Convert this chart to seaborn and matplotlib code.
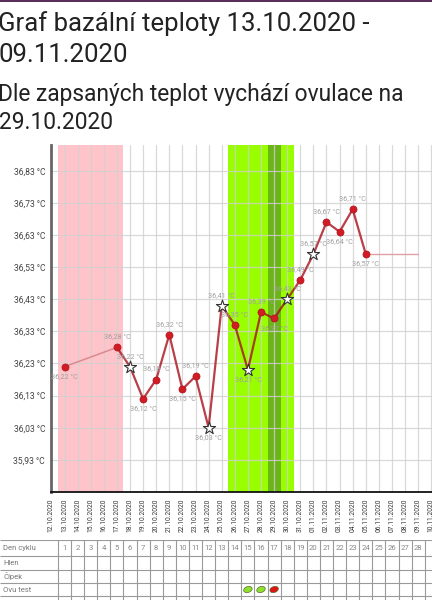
import numpy as np
import pandas as pd
import matplotlib
matplotlib.use('Agg')
import matplotlib.pyplot as plt
from matplotlib.path import Path
import matplotlib.transforms as mtransforms
import seaborn as sns

# --- data ------------------------------------------------------------------
title_lines = ['Graf bazální teploty 13.10.2020 -', '09.11.2020']
subtitle_lines = ['Dle zapsaných teplot vychází ovulace na', '29.10.2020']

axis_start = '2020-10-12'
axis_end = '2020-11-10'

measured_dates = ['13.10.2020', '17.10.2020', '18.10.2020', '19.10.2020', '20.10.2020',
                  '21.10.2020', '22.10.2020', '23.10.2020', '24.10.2020', '25.10.2020',
                  '26.10.2020', '27.10.2020', '28.10.2020', '29.10.2020', '30.10.2020',
                  '31.10.2020', '01.11.2020', '02.11.2020', '03.11.2020', '04.11.2020',
                  '05.11.2020']
temps = [36.22, 36.28, 36.22, 36.12, 36.18, 36.32, 36.15, 36.19, 36.03, 36.41,
         36.35, 36.21, 36.39, 36.37, 36.43, 36.49, 36.57, 36.67, 36.64, 36.71, 36.57]
flagged_dates = ['18.10.2020', '24.10.2020', '25.10.2020', '27.10.2020',
                 '30.10.2020', '01.11.2020']
projection_end = '09.11.2020'

y_ticks = [35.93, 36.03, 36.13, 36.23, 36.33, 36.43, 36.53, 36.63, 36.73, 36.83]

period_days = ['13.10.2020', '17.10.2020']
fertile_days = ['26.10.2020', '30.10.2020']
ovulation_day = '29.10.2020'

table_rows = ['Den cyklu', 'Hlen', 'Čípek', 'Ovu test']
cycle_days = [1, 2, 3, 4, 5, 6, 7, 8, 9, 10, 11, 12, 13, 14, 15, 16, 17, 18, 19,
              20, 21, 22, 23, 24, 25, 26, 27, 28]
ovu_test_days = [15, 16, 17]
ovu_test_result = ['neg', 'neg', 'pos']

# --- helpers ----------------------------------------------------------------
axis_dates = pd.date_range(axis_start, axis_end)
tick_labels = [d.strftime('%d.%m.%Y') for d in axis_dates]
def day_index(s):
    return (pd.to_datetime(s, format='%d.%m.%Y') - axis_dates[0]).days

df = pd.DataFrame({'date': measured_dates, 'temp': temps})
df['x'] = df['date'].map(day_index)
df['flag'] = df['date'].isin(flagged_dates)

sns.set_style('white')
plt.rcParams['font.family'] = ['Roboto', 'DejaVu Sans']

W, H = 432, 600
fig = plt.figure(figsize=(W / 100, H / 100), dpi=100)

# top bar
fig.add_artist(plt.Rectangle((0, 1 - 2 / H), 1, 2 / H, transform=fig.transFigure,
                             color='#5a2d5a', lw=0))

# headings
for txt, base in zip(title_lines, [31, 62]):
    fig.text(-1.5 / W, 1 - base / H, txt, fontsize=18.5, va='baseline', color='#222222')
for txt, base in zip(subtitle_lines, [101, 129]):
    fig.text(-1.5 / W, 1 - base / H, txt, fontsize=16.4, va='baseline', color='#222222')

# --- main chart -------------------------------------------------------------
x0_px, step_px = 51.4, 13.1
top_px, bot_px = 145, 492
ax = fig.add_axes([x0_px / W, 1 - bot_px / H, (W - x0_px) / W, (bot_px - top_px) / H])
x_right = (W - x0_px) / step_px
ax.set_xlim(0, x_right)
ax.set_ylim(35.83, 36.91)

# coloured zones
p0, p1 = day_index(period_days[0]), day_index(period_days[1])
ax.axvspan(p0 - 0.5, p1 + 0.5, color='#ffc4ca', lw=0, zorder=0)
f0, f1 = day_index(fertile_days[0]), day_index(fertile_days[1])
ax.axvspan(f0 - 0.5, f1 + 0.5, color='#99ff00', lw=0, zorder=0)
ov = day_index(ovulation_day)
ax.axvspan(ov - 0.5, ov + 0.5, color='#6db31a', lw=0, zorder=0.1)

# grid
ax.set_xticks(range(len(tick_labels)))
ax.set_xticklabels(tick_labels, rotation=90, fontsize=4.8, color='#333333')
ax.set_yticks(y_ticks)
ax.set_yticklabels([f'{v:.2f} °C'.replace('.', ',') for v in y_ticks],
                   fontsize=6.2, color='#444444')
ax.grid(True, color='#d0d0d0', lw=0.9, alpha=0.8, zorder=0.5)
ax.set_axisbelow(True)

# lines
gap = df.iloc[:2]
main = df.iloc[1:]
sns.lineplot(data=gap, x='x', y='temp', ax=ax, color='#d98a8f', lw=1.1,
             zorder=2, sort=False)
sns.lineplot(data=main, x='x', y='temp', ax=ax, color='#a8101a', lw=1.6,
             alpha=0.8, zorder=2, sort=False)
proj = pd.DataFrame({'x': [df['x'].iloc[-1], day_index(projection_end)],
                     'temp': [df['temp'].iloc[-1]] * 2})
sns.lineplot(data=proj, x='x', y='temp', ax=ax, color='#e0a0a4', lw=1.0, zorder=2)

# markers
sns.scatterplot(data=df[~df['flag']], x='x', y='temp', ax=ax, color='#d01c24',
                s=26, edgecolor='#b0141c', linewidth=0.5, zorder=4)
sns.scatterplot(data=df[df['flag']], x='x', y='temp', ax=ax, marker='*',
                color='white', s=85, edgecolor='#333333', linewidth=0.8, zorder=4)

# value labels: below for local minima and first point, above otherwise
vals = df['temp'].tolist()
for i, r in df.iterrows():
    prev_v = vals[i - 1] if i > 0 else None
    next_v = vals[i + 1] if i < len(vals) - 1 else None
    below = prev_v is None or (r['temp'] < prev_v and (next_v is None or r['temp'] < next_v))
    dy = -7 if below else 7.5
    ax.annotate(f"{r['temp']:.2f} °C".replace('.', ','), (r['x'], r['temp']),
                xytext=(0, dy), textcoords='offset points', ha='center', va='center',
                fontsize=5.2, color='#a0a0a0', zorder=5)

ax.set_xlabel('')
ax.set_ylabel('')
for s in ['top', 'right']:
    ax.spines[s].set_visible(False)
ax.spines['left'].set_color('#666666')
ax.spines['left'].set_linewidth(2)
ax.spines['bottom'].set_color('#111111')
ax.spines['bottom'].set_linewidth(1.3)
ax.tick_params(axis='x', length=3, width=0.9, color='#111111', pad=1.5)
ax.tick_params(axis='y', length=3, width=0.9, color='#555555', pad=1.5)

# --- table ------------------------------------------------------------------
tab = fig.add_axes([0, 0, 1, 60 / H])
tab.set_xlim(-x0_px / step_px, x_right)
tab.set_ylim(0, 60)
tab.axis('off')
row_edges = [60, 44, 30, 17, 4]
tab.hlines(row_edges, -x0_px / step_px, x_right, color='#9a9a9a', lw=0.8)
col_edges = [c - 0.5 for c in cycle_days] + [cycle_days[-1] + 0.5]
tab.vlines(col_edges, 0, 60, color='#9a9a9a', lw=0.8)
for lbl, top, bot in zip(table_rows, row_edges[:-1], row_edges[1:]):
    tab.text(-x0_px / step_px + 0.25, (top + bot) / 2, lbl, fontsize=5.5,
             color='#777777', va='center', ha='left')
for d in cycle_days:
    tab.text(d, (row_edges[0] + row_edges[1]) / 2, str(d), fontsize=5.5,
             color='#888888', va='center', ha='center')

leaf = Path.unit_circle().transformed(mtransforms.Affine2D().scale(1.5, 1).rotate_deg(20))
ovu = pd.DataFrame({'x': ovu_test_days, 'y': [(row_edges[3] + row_edges[4]) / 2] * 3,
                    'res': ovu_test_result})
sns.scatterplot(data=ovu, x='x', y='y', hue='res', ax=tab, marker=leaf, s=40,
                palette={'neg': '#8fe02a', 'pos': '#e01414'}, edgecolor='#556b2f',
                linewidth=0.5, legend=False, zorder=3)

fig.savefig('out.png', dpi=100)
